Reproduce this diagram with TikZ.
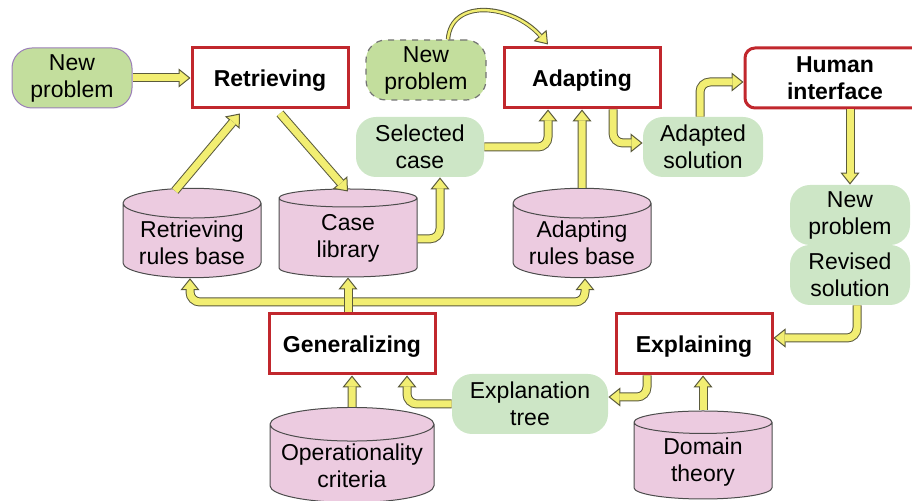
\documentclass[tikz,border=0pt]{standalone}
\usepackage{fontspec}
\setmainfont{Liberation Sans}
\usetikzlibrary{shapes.geometric,arrows.meta}

\definecolor{pillgreen}{HTML}{C3DE9D}
\definecolor{softgreen}{HTML}{CDE6C6}
\definecolor{basepink}{HTML}{ECCBE0}
\definecolor{boxred}{HTML}{C1272D}
\definecolor{flowyellow}{HTML}{F2EE72}
\definecolor{flowedge}{HTML}{5B5B3C}
\definecolor{pilledge}{HTML}{9B7FB8}

\tikzset{
  every node/.style={font=\fontsize{11.5}{13.5}\selectfont, align=center, inner sep=1pt},
  task/.style={draw=boxred, line width=1.5pt, fill=white, minimum width=78pt, minimum height=30pt,
    text depth=0pt, font=\fontsize{11.5}{13.5}\selectfont\bfseries},
  data/.style={fill=softgreen, rounded corners=10pt, minimum width=60pt, minimum height=30pt},
  base/.style={cylinder, shape border rotate=90, aspect=0.27, anchor=shape center, draw=black!70,
    fill=basepink, line width=0.5pt, minimum width=69pt, minimum height=44pt},
  flow/.style={draw=flowedge, line width=4.5pt, rounded corners=5pt,
    -{Triangle[length=6pt,width=9.5pt,line width=0.5pt,fill=flowyellow]},
    postaction={draw=flowyellow, line width=3.5pt, shorten >=5.5pt, -}},
  curveflow/.style={draw=flowedge, line width=2.2pt,
    -{Triangle[length=6pt,width=8.5pt,line width=0.5pt,fill=flowyellow]},
    postaction={draw=flowyellow, line width=1.2pt, shorten >=5.5pt, -}},
}

\begin{document}
\begin{tikzpicture}[x=0.5pt, y=-0.5pt]
  \useasboundingbox (0,0) rectangle (912,501);

  \node[data, fill=pillgreen, draw=pilledge, line width=0.5pt] (np1) at (72,78) {New\\problem};
  \node[task] (retr) at (270,78) {Retrieving};
  \node[data, fill=pillgreen, draw=black!55, dashed, line width=0.6pt] (np3) at (426,70) {New\\problem};
  \node[task] (adapt) at (582,78) {Adapting};
  \node[task, rounded corners=5pt, minimum width=90pt] (human) at (835,78) {Human\\interface};
  \node[data, minimum width=64pt] (selcase) at (420,147) {Selected\\case};
  \node[data] (adsol) at (703,147) {Adapted\\solution};
  \node[data] (np2) at (850,215) {New\\problem};
  \node[data] (revsol) at (850,275) {Revised\\solution};
  \node[base] (rrb) at (192,233) {Retrieving\\rules base};
  \node[base] (caselib) at (348,233) {Case\\library};
  \node[base] (arb) at (582,233) {Adapting\\rules base};
  \node[task, minimum width=83pt] (gen) at (352,344) {Generalizing};
  \node[task] (expl) at (694,344) {Explaining};
  \node[data, minimum width=78pt] (expltree) at (530,404) {Explanation\\tree};
  \node[base, minimum width=82pt, aspect=0.23] (opcrit) at (352,455) {Operationality\\criteria};
  \node[base] (dom) at (703,455) {Domain\\theory};

  \draw[flow] (np1) -- (retr);
  \draw[flow] ([xshift=-8.5pt,yshift=-1.5pt]rrb.north) -- ([xshift=-15pt,yshift=-2pt]retr.south);
  \draw[flow] ([xshift=5pt,yshift=-2pt]retr.south) -- ([yshift=-1.5pt]caselib.north);
  \draw[flow] (caselib.east) -| ([xshift=10pt]selcase.south);
  \draw[flow] (selcase.east) -| ([xshift=-17pt]adapt.south);
  \draw[flow] (arb.north) -- (adapt.south);
  \draw[curveflow] ([xshift=11pt]np3.north) .. controls +(3,-42) and +(-35,-40) .. ([xshift=-17pt,yshift=1pt]adapt.north);
  \draw[flow] ([xshift=15.5pt]adapt.south) |- ([yshift=2pt]adsol.west);
  \draw[flow] ([xshift=-1.5pt]adsol.north) |- ([yshift=-2pt]human.west);
  \draw[flow] (human.south -| np2.north) -- (np2.north);
  \draw[flow] ([xshift=3.5pt]revsol.south) |- ([yshift=3pt]expl.east);
  \draw[flow] ([xshift=-23.5pt]expl.south) |- ([yshift=3.5pt]expltree.east);
  \draw[flow] (expltree.west) -| ([xshift=27.5pt]gen.south);
  \draw[flow] (opcrit.north) -- (gen.south);
  \draw[flow] (dom.north) -- (dom.north |- expl.south);

  \coordinate (split) at (348,302);
  \draw[flow] (split) -| ([xshift=-1pt]rrb.south);
  \draw[flow] (split) -| ([xshift=1.5pt]arb.south);
  \draw[flow] (gen.north -| caselib.south) -- (caselib.south);
\end{tikzpicture}
\end{document}
